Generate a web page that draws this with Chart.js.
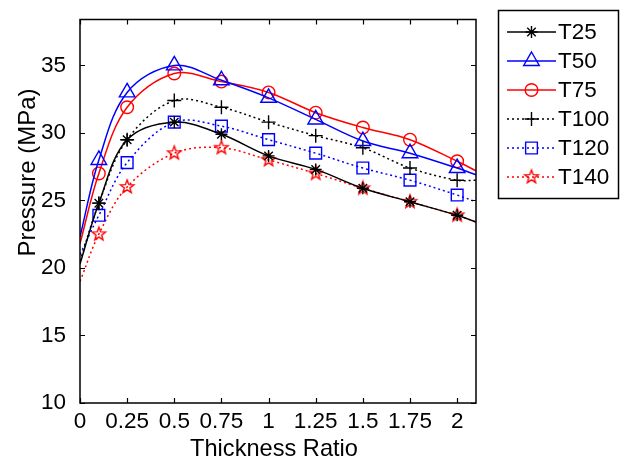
<!DOCTYPE html>
<html><head><meta charset="utf-8">
<script src="https://cdn.jsdelivr.net/npm/chart.js@4/dist/chart.umd.min.js"></script>
<style>html,body{margin:0;padding:0;background:#fff;} #c{display:block;}</style>
</head><body>
<canvas id="c" width="621" height="467"></canvas>
<script>
// ---- data ----
const thicknessRatio = [0, 0.1, 0.25, 0.5, 0.75, 1, 1.25, 1.5, 1.75, 2, 2.1];
const seriesNames = ['T25', 'T50', 'T75', 'T100', 'T120', 'T140'];
const T25  = [20.3, 24.8, 29.5, 30.8, 29.9, 28.3, 27.3, 25.9, 24.9, 23.9, 23.4];
const T50  = [22.3, 28.0, 33.0, 35.0, 33.9, 32.6, 31.0, 29.4, 28.5, 27.4, 26.9];
const T75  = [21.8, 27.0, 31.9, 34.4, 33.8, 33.0, 31.5, 30.4, 29.5, 27.9, 27.2];
const T100 = [20.5, 24.8, 29.5, 32.4, 31.9, 30.8, 29.8, 28.9, 27.4, 26.5, 26.5];
const T120 = [21.0, 23.9, 27.8, 30.8, 30.5, 29.5, 28.5, 27.4, 26.5, 25.4, 24.9];
const T140 = [19.0, 22.5, 26.0, 28.5, 28.9, 28.0, 27.0, 25.9, 24.9, 23.9, 23.4];
const markerShown = [false, true, true, true, true, true, true, true, true, true, false];
const xTickValues = [0, 0.25, 0.5, 0.75, 1, 1.25, 1.5, 1.75, 2];
const yTickValues = [10, 15, 20, 25, 30, 35];
const xRange = [0, 2.1];
const yRange = [10, 38.4];
const xTitle = 'Thickness Ratio';
const yTitle = 'Pressure (MPa)';

const FONT = '"Liberation Sans", Arial, Helvetica, sans-serif';

// pentagram marker
function makePentagram(color, R) {
  const s = Math.ceil(R * 2 + 4);
  const cv = document.createElement('canvas');
  cv.width = s; cv.height = s;
  const c = cv.getContext('2d');
  const cx = s / 2, cy = s / 2, r = R * 0.42;
  c.beginPath();
  for (let k = 0; k < 10; k++) {
    const rad = k % 2 === 0 ? R : r;
    const a = -Math.PI / 2 + k * Math.PI / 5;
    const px = cx + rad * Math.cos(a), py = cy + rad * Math.sin(a);
    if (k === 0) c.moveTo(px, py); else c.lineTo(px, py);
  }
  c.closePath();
  c.strokeStyle = color; c.lineWidth = 1.4; c.stroke();
  return cv;
}
const pentagram = makePentagram('#ff0000', 7);

const styles = [
  {color: '#000000', dash: [], point: 'star', r: 6},
  {color: '#0000ff', dash: [], point: 'triangle', r: 9},
  {color: '#ff0000', dash: [], point: 'circle', r: 6.3},
  {color: '#000000', dash: [2, 3], point: 'cross', r: 7},
  {color: '#0000ff', dash: [2, 3], point: 'rect', r: 8.3},
  {color: '#ff0000', dash: [2, 3], point: pentagram, r: 7}
];
const seriesValues = [T25, T50, T75, T100, T120, T140];

const datasets = seriesNames.map((name, i) => ({
  label: name,
  data: thicknessRatio.map((x, j) => ({x: x, y: seriesValues[i][j]})),
  borderColor: styles[i].color,
  backgroundColor: 'rgba(0,0,0,0)',
  borderWidth: 1.5,
  borderDash: styles[i].dash,
  tension: 0.35,
  pointStyle: styles[i].point,
  pointRadius: markerShown.map(m => m ? styles[i].r : 0),
  pointHoverRadius: markerShown.map(m => m ? styles[i].r : 0),
  pointBorderColor: styles[i].color,
  pointBackgroundColor: 'rgba(0,0,0,0)',
  pointBorderWidth: 1.4,
  legendRadius: styles[i].r
}));

const framePlugin = {
  id: 'frame',
  afterDraw(chart) {
    const ctx = chart.ctx, a = chart.chartArea;
    const xs = chart.scales.x, ys = chart.scales.y;
    ctx.save();
    ctx.strokeStyle = '#000'; ctx.lineWidth = 1.5; ctx.setLineDash([]);
    ctx.strokeRect(a.left, a.top, a.right - a.left, a.bottom - a.top);
    ctx.lineWidth = 1.2;
    ctx.beginPath();
    xTickValues.forEach(v => {
      const p = Math.round(xs.getPixelForValue(v)) + 0.5;
      ctx.moveTo(p, a.bottom); ctx.lineTo(p, a.bottom - 5);
      ctx.moveTo(p, a.top); ctx.lineTo(p, a.top + 5);
    });
    yTickValues.forEach(v => {
      const p = Math.round(ys.getPixelForValue(v)) + 0.5;
      ctx.moveTo(a.left, p); ctx.lineTo(a.left + 5, p);
      ctx.moveTo(a.right, p); ctx.lineTo(a.right - 5, p);
    });
    ctx.stroke();

    // axis titles
    ctx.fillStyle = '#000';
    ctx.textAlign = 'center'; ctx.textBaseline = 'alphabetic';
    ctx.font = '23.6px ' + FONT;
    ctx.fillText(xTitle, 274, 456);
    ctx.save();
    ctx.translate(35, 172.5);
    ctx.rotate(-Math.PI / 2);
    ctx.font = '24px ' + FONT;
    ctx.fillText(yTitle, 0, 0);
    ctx.restore();
    ctx.restore();

    // legend
    const bx = 498.5, by = 10.5, bw = 120, bh = 188;
    ctx.save();
    ctx.fillStyle = '#fff'; ctx.fillRect(bx, by, bw, bh);
    ctx.strokeStyle = '#000'; ctx.lineWidth = 1.5; ctx.strokeRect(bx, by, bw, bh);
    chart.data.datasets.forEach((ds, i) => {
      const y = by + 21.5 + i * 29;
      ctx.save();
      ctx.strokeStyle = ds.borderColor; ctx.lineWidth = ds.borderWidth;
      ctx.setLineDash(ds.borderDash || []);
      ctx.beginPath(); ctx.moveTo(507, y); ctx.lineTo(556, y); ctx.stroke();
      ctx.restore();
      ctx.save();
      ctx.setLineDash([]);
      ctx.strokeStyle = ds.borderColor; ctx.fillStyle = 'rgba(0,0,0,0)';
      ctx.lineWidth = ds.pointBorderWidth;
      Chart.helpers.drawPoint(ctx, {pointStyle: ds.pointStyle, radius: ds.legendRadius,
        borderWidth: ds.pointBorderWidth, rotation: 0}, 531.5, y);
      ctx.restore();
      ctx.fillStyle = '#000';
      ctx.font = '22.5px ' + FONT;
      ctx.textBaseline = 'middle'; ctx.textAlign = 'left';
      ctx.fillText(ds.label, 558, y + 1);
    });
    ctx.restore();
  }
};

new Chart(document.getElementById('c'), {
  type: 'line',
  data: {datasets: datasets},
  options: {
    responsive: false,
    animation: false,
    events: [],
    layout: {padding: {left: 0, right: 145, top: 7, bottom: 0}},
    plugins: {legend: {display: false}, tooltip: {enabled: false}},
    scales: {
      x: {
        type: 'linear', min: xRange[0], max: xRange[1],
        grid: {display: false}, border: {display: false},
        afterBuildTicks: s => { s.ticks = xTickValues.map(v => ({value: v})); },
        afterFit: s => { s.height = 64; },
        ticks: {color: '#000', font: {family: FONT, size: 22.5}, padding: -3, maxRotation: 0,
          autoSkip: false, callback: v => String(v)},
        title: {display: false}
      },
      y: {
        type: 'linear', min: yRange[0], max: yRange[1],
        grid: {display: false}, border: {display: false},
        afterBuildTicks: s => { s.ticks = yTickValues.map(v => ({value: v})); },
        afterFit: s => { s.width = 80; },
        ticks: {color: '#000', font: {family: FONT, size: 22.5}, padding: 6, autoSkip: false,
          callback: v => String(v)},
        title: {display: false}
      }
    }
  },
  plugins: [framePlugin]
});
</script>
</body></html>
